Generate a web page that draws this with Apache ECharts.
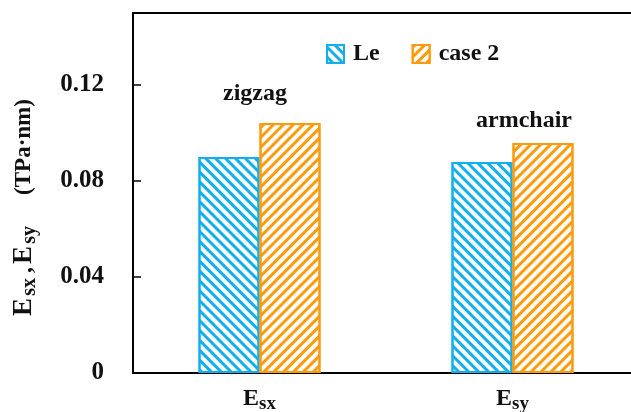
<!DOCTYPE html>
<html><head><meta charset="utf-8">
<script src="https://cdn.jsdelivr.net/npm/echarts@6/dist/echarts.min.js"></script>
<style>html,body{margin:0;padding:0;background:#fff}#c{width:631px;height:412px}</style>
</head><body><div id="c"></div>
<script>
var categories = ['sx', 'sy'];
var seriesNames = ['Le', 'case 2'];
var leValues = [0.0900, 0.0879];
var case2Values = [0.1042, 0.0958];
var groupNotes = ['zigzag', 'armchair'];
var yTicks = { min: 0, max: 0.15, interval: 0.04 };

var FONT = 'Liberation Serif';
var BLUE = '#12AEEE';
var ORANGE = '#FF9A0A';

var chart = echarts.init(document.getElementById('c'), null, { renderer: 'canvas' });

function hatch(color, rot) {
  return { symbol: 'rect', color: color, dashArrayX: [1, 0], dashArrayY: [3, 3.4], rotation: rot, symbolSize: 1 };
}

var case2Data = case2Values.map(function (v, i) {
  return {
    value: v,
    label: {
      show: true, position: 'top', formatter: groupNotes[i],
      offset: i === 0 ? [-35, -12] : [-19, -5],
      fontFamily: FONT, fontWeight: 'bold', fontSize: 24, color: '#111'
    }
  };
});

var subStyle = { fontFamily: FONT, fontWeight: 'bold', fontSize: 19, color: '#111', padding: [11, 0, 0, 0] };

chart.setOption({
  animation: false,
  backgroundColor: '#fff',
  grid: { left: 133, top: 13, width: 506, height: 360, containLabel: false, outerBoundsMode: 'none' },
  legend: {
    left: 326, top: 42, padding: 0, icon: 'rect', itemWidth: 17, itemHeight: 18, itemGap: 32,
    textStyle: { fontFamily: FONT, fontWeight: 'bold', fontSize: 24, color: '#111', padding: [0, 0, 0, 4] },
    data: seriesNames
  },
  xAxis: [{
    type: 'category', data: categories,
    axisLine: { lineStyle: { color: '#000', width: 2 } },
    axisTick: { show: false },
    axisLabel: {
      margin: 11,
      formatter: function (v) { return '{b|E}{s|' + v + '}'; },
      rich: {
        b: { fontFamily: FONT, fontWeight: 'bold', fontSize: 24, color: '#111' },
        s: subStyle
      }
    }
  }, {
    type: 'category', data: categories, position: 'top',
    axisLine: { lineStyle: { color: '#000', width: 2 } },
    axisTick: { show: false }, axisLabel: { show: false }
  }],
  yAxis: {
    type: 'value', min: yTicks.min, max: yTicks.max, interval: yTicks.interval,
    axisLine: { show: true, lineStyle: { color: '#000', width: 2 } },
    axisTick: { show: true, inside: true, length: 8, lineStyle: { color: '#000', width: 1.5 } },
    splitLine: { show: false },
    axisLabel: {
      showMaxLabel: false, margin: 29,
      fontFamily: FONT, fontWeight: 'bold', fontSize: 25, color: '#111',
      formatter: function (v) { return v === 0 ? '0' : v.toFixed(2); }
    },
    name: '{e|E}{s|sx}{c|,}{e|E}{s|sy}{g| }{t|(TPa·nm)}',
    nameLocation: 'middle', nameGap: 93, nameRotate: 90,
    nameTextStyle: {
      padding: [0, 29, 0, 0],
      rich: {
        e: { fontFamily: FONT, fontWeight: 'bold', fontSize: 27, color: '#111' },
        s: { fontFamily: FONT, fontWeight: 'bold', fontSize: 20, color: '#111', padding: [11, 0, 0, 0], width: 22, align: 'left' },
        c: { fontFamily: FONT, fontWeight: 'bold', fontSize: 24, color: '#111', width: 12, align: 'left' },
        g: { fontSize: 12, width: 29 },
        t: { fontFamily: FONT, fontWeight: 'bold', fontSize: 23, color: '#111' }
      }
    }
  },
  series: [{
    name: seriesNames[0], type: 'bar', data: leValues, barWidth: 61, barGap: '0%',
    itemStyle: { color: '#fff', borderColor: BLUE, borderWidth: 2, decal: hatch(BLUE, Math.PI / 4) }
  }, {
    name: seriesNames[1], type: 'bar', data: case2Data, barWidth: 61, barGap: '0%',
    itemStyle: { color: '#fff', borderColor: ORANGE, borderWidth: 2, decal: hatch(ORANGE, -Math.PI / 4) }
  }]
});
</script></body></html>
